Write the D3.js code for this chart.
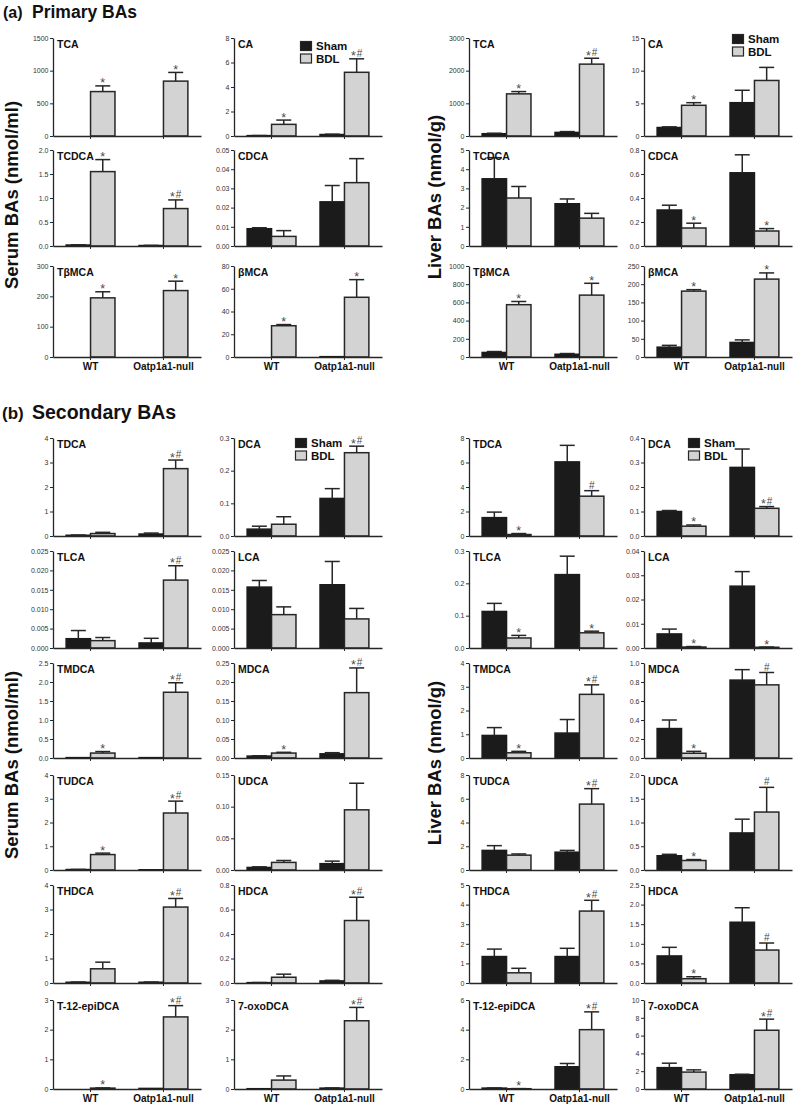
<!DOCTYPE html>
<html><head><meta charset="utf-8">
<script src="https://cdn.jsdelivr.net/npm/d3@7"></script>
<style>
body{margin:0;background:#fff}
svg{display:block}
text{font-family:"Liberation Sans",Arial,Helvetica,sans-serif}
</style>
</head><body>
<svg id="chart" width="794" height="1105"></svg>
<script>
// ---------------- DATA ----------------
const groups = ["WT", "Oatp1a1-null"];
const seriesNames = ["Sham", "BDL"];
const sectionTitles = [["(a)", "Primary BAs"], ["(b)", "Secondary BAs"]];
const yTitles = ["Serum BAs (nmol/ml)", "Liver BAs (nmol/g)"];

// panels in reading order: per row -> serum, serum, liver, liver
const panelNames = [
  "TCA","CA","TCA","CA",
  "TCDCA","CDCA","TCDCA","CDCA",
  "TβMCA","βMCA","TβMCA","βMCA",
  "TDCA","DCA","TDCA","DCA",
  "TLCA","LCA","TLCA","LCA",
  "TMDCA","MDCA","TMDCA","MDCA",
  "TUDCA","UDCA","TUDCA","UDCA",
  "THDCA","HDCA","THDCA","HDCA",
  "T-12-epiDCA","7-oxoDCA","T-12-epiDCA","7-oxoDCA"
];
const yMax = [
  1500, 8, 3000, 15,
  2.0, 0.05, 5, 0.8,
  300, 80, 1000, 250,
  4, 0.3, 8, 0.4,
  0.025, 0.025, 0.3, 0.04,
  2.5, 0.25, 4, 1.0,
  4, 0.15, 8, 2.0,
  4, 0.8, 5, 2.5,
  3, 3, 6, 10
];
const tickStep = [
  500, 2, 1000, 5,
  0.5, 0.01, 1, 0.2,
  100, 20, 200, 50,
  1, 0.1, 2, 0.1,
  0.005, 0.005, 0.1, 0.01,
  0.5, 0.05, 1, 0.2,
  1, 0.05, 2, 0.5,
  1, 0.2, 1, 0.5,
  1, 1, 2, 2
];
const tickDecimals = [
  0, 0, 0, 0,
  1, 2, 0, 1,
  0, 0, 0, 0,
  0, 1, 0, 1,
  3, 3, 1, 2,
  1, 2, 0, 1,
  0, 2, 0, 1,
  0, 1, 0, 1,
  0, 0, 0, 0
];
// [WT, Oatp1a1-null]
const shamMean = [
  [0, 0], [0.03, 0.12], [70, 110], [1.3, 5.1],
  [0.02, 0.01], [0.009, 0.023], [3.5, 2.2], [0.30, 0.61],
  [0, 0], [0, 0.3], [50, 30], [27, 40],
  [0.03, 0.08], [0.021, 0.115], [1.5, 6.05], [0.1, 0.28],
  [0.0024, 0.0013], [0.0157, 0.0163], [0.113, 0.227], [0.0058, 0.0255],
  [0.01, 0.01], [0.005, 0.011], [0.95, 1.05], [0.31, 0.82],
  [0.02, 0.01], [0.004, 0.010], [1.65, 1.5], [0.3, 0.78],
  [0.03, 0.03], [0.003, 0.017], [1.35, 1.35], [0.69, 1.55],
  [0, 0.02], [0.01, 0.03], [0.06, 1.5], [2.4, 1.6]
];
const shamErr = [
  [0, 0], [0.01, 0.03], [15, 25], [0.1, 1.9],
  [0.005, 0.003], [0.0005, 0.0085], [1.1, 0.25], [0.04, 0.15],
  [0, 0], [0, 0], [10, 8], [5, 7],
  [0.01, 0.04], [0.009, 0.03], [0.45, 1.35], [0.004, 0.075],
  [0.0021, 0.0012], [0.0017, 0.006], [0.025, 0.057], [0.002, 0.006],
  [0, 0], [0.001, 0.003], [0.33, 0.57], [0.09, 0.11],
  [0.005, 0], [0.001, 0.004], [0.4, 0.15], [0.03, 0.29],
  [0.01, 0.01], [0.001, 0.005], [0.38, 0.42], [0.22, 0.37],
  [0, 0], [0, 0.005], [0.01, 0.22], [0.5, 0.06]
];
const bdlMean = [
  [680, 840], [0.95, 5.2], [1290, 2200], [4.7, 8.5],
  [1.55, 0.78], [0.005, 0.033], [2.5, 1.45], [0.15, 0.125],
  [195, 219], [27.5, 52.5], [575, 680], [181, 214],
  [0.10, 2.75], [0.036, 0.255], [0.12, 3.25], [0.04, 0.113],
  [0.0019, 0.0175], [0.0086, 0.0075], [0.031, 0.047], [0.0004, 0.0003],
  [0.13, 1.73], [0.013, 0.172], [0.22, 2.68], [0.05, 0.77],
  [0.65, 2.4], [0.012, 0.095], [1.25, 5.55], [0.2, 1.22],
  [0.58, 3.1], [0.047, 0.51], [0.52, 3.67], [0.11, 0.84],
  [0.03, 2.43], [0.3, 2.3], [0.02, 4.0], [1.9, 6.6]
];
const bdlErr = [
  [87, 133], [0.35, 1.1], [70, 180], [0.4, 2.0],
  [0.25, 0.18], [0.003, 0.0125], [0.6, 0.25], [0.04, 0.02],
  [20, 31], [1, 15.5], [35, 130], [4, 17],
  [0.05, 0.35], [0.023, 0.02], [0.08, 0.45], [0.005, 0.007],
  [0.0008, 0.0037], [0.002, 0.0027], [0.008, 0.005], [0.0002, 0.0001],
  [0.04, 0.25], [0.002, 0.065], [0.06, 0.4], [0.02, 0.13],
  [0.06, 0.5], [0.003, 0.042], [0.1, 1.3], [0.02, 0.52],
  [0.27, 0.35], [0.025, 0.19], [0.23, 0.55], [0.05, 0.18],
  [0.005, 0.38], [0.14, 0.45], [0.005, 1.2], [0.25, 1.25]
];
const bdlMarks = [
  ["*","*"], ["*","*#"], ["*","*#"], ["*",""],
  ["*","*#"], ["",""], ["",""], ["*","*"],
  ["*","*"], ["*","*"], ["*","*"], ["*","*"],
  ["","*#"], ["","*#"], ["*","#"], ["*","*#"],
  ["","*#"], ["",""], ["*","*"], ["*","*"],
  ["*","*#"], ["*","*#"], ["*","*#"], ["*","#"],
  ["*","*#"], ["",""], ["","*#"], ["*","#"],
  ["","*#"], ["","*#"], ["","*#"], ["*","#"],
  ["*","*#"], ["","*#"], ["*","*#"], ["","*#"]
];

// ---------------- LAYOUT ----------------
const svg = d3.select("#chart");
const colX = [53, 234, 469, 644];
const colW = 148;
const rowBox = [
  [38,136],[150,246],[266,357],
  [438,536],[551,648],[663,758],[775,870],[885,983],[1000,1089]
];
const lastRows = [2, 8];
const ink = "#262626";
const shamColor = "#1b1b1b";
const bdlColor = "#d3d3d3";

// section titles
const titlePos = [[3, 32, 17.5, 16, 17.5], [2, 32, 419, 17, 19.5]];
sectionTitles.forEach((t, i) => {
  const [xa, xb, yb, fa, fb] = titlePos[i];
  svg.append("text").attr("x", xa).attr("y", yb).attr("font-size", fa).attr("font-weight", "bold").attr("fill", "#111").text(t[0]);
  svg.append("text").attr("x", xb).attr("y", yb).attr("font-size", fb).attr("font-weight", "bold").attr("fill", "#111").text(t[1]);
});

// y titles
const yTitlePos = [[18, 195, 0], [441, 197, 1], [18, 765, 0], [441, 763, 1]];
yTitlePos.forEach(([x, y, k]) => {
  svg.append("text")
    .attr("transform", `translate(${x},${y}) rotate(-90)`)
    .attr("text-anchor", "middle")
    .attr("font-size", 18.5).attr("font-weight", "bold").attr("fill", "#111")
    .text(yTitles[k]);
});

// legends
const legendPos = [[300, 41], [732, 34], [295, 438], [688, 438]];
legendPos.forEach(([lx, ly]) => {
  const g = svg.append("g").attr("transform", `translate(${lx},${ly})`);
  seriesNames.forEach((s, i) => {
    g.append("rect").attr("x", 0.5).attr("y", i * 12.5 + 0.5).attr("width", 11).attr("height", 9)
      .attr("fill", i === 0 ? shamColor : bdlColor).attr("stroke", ink).attr("stroke-width", 1.2);
    g.append("text").attr("x", 16).attr("y", i * 12.5 + 9).attr("font-size", 11.5)
      .attr("font-weight", "bold").attr("fill", "#111").text(s);
  });
});

// panels
panelNames.forEach((name, i) => {
  const r = Math.floor(i / 4), c = i % 4;
  const [top, bottom] = rowBox[r];
  const x0 = colX[c];
  const xb = d3.scaleBand().domain(groups).range([x0, x0 + colW]).paddingInner(0.33).paddingOuter(0.18);
  const sub = d3.scaleBand().domain(seriesNames).range([0, xb.bandwidth()]);
  const y = d3.scaleLinear().domain([0, yMax[i]]).range([bottom, top]);
  const g = svg.append("g");

  const means = [shamMean[i], bdlMean[i]];
  const errs = [shamErr[i], bdlErr[i]];

  // bars
  seriesNames.forEach((s, si) => {
    groups.forEach((grp, gi) => {
      const v = means[si][gi];
      const bx = xb(grp) + sub(s);
      g.append("rect")
        .attr("x", bx).attr("y", y(v))
        .attr("width", sub.bandwidth()).attr("height", Math.max(0, bottom - y(v)))
        .attr("fill", si === 0 ? shamColor : bdlColor)
        .attr("stroke", si === 0 ? shamColor : ink).attr("stroke-width", 1.5);
    });
  });
  // error bars
  seriesNames.forEach((s, si) => {
    groups.forEach((grp, gi) => {
      const v = means[si][gi], e = errs[si][gi];
      if (e <= 0) return;
      const cx = xb(grp) + sub(s) + sub.bandwidth() / 2;
      g.append("line").attr("x1", cx).attr("x2", cx).attr("y1", y(v)).attr("y2", y(v + e))
        .attr("stroke", ink).attr("stroke-width", 1.5);
      g.append("line").attr("x1", cx - 7.5).attr("x2", cx + 7.5).attr("y1", y(v + e)).attr("y2", y(v + e))
        .attr("stroke", ink).attr("stroke-width", 1.5);
    });
  });
  // significance marks on BDL bars
  groups.forEach((grp, gi) => {
    const m = bdlMarks[i][gi];
    if (!m) return;
    const v = bdlMean[i][gi], e = bdlErr[i][gi];
    const cx = xb(grp) + sub("BDL") + sub.bandwidth() / 2;
    const t = g.append("text").attr("x", cx).attr("y", y(v + e) - 2)
      .attr("text-anchor", "middle").attr("fill", "#4a4a4a");
    let shift = 0;
    [...m].forEach((ch, k) => {
      const target = ch === "*" ? 3.5 : 0;
      t.append("tspan").attr("dy", target - shift).attr("dx", k > 0 ? 1 : 0)
        .attr("font-size", ch === "*" ? 12.5 : 10).text(ch);
      shift = target;
    });
  });

  // y axis
  const ticks = d3.range(0, yMax[i] + tickStep[i] / 2, tickStep[i]);
  const ya = g.append("g").attr("transform", `translate(${x0},0)`)
    .call(d3.axisLeft(y).tickValues(ticks).tickFormat(d3.format(`.${tickDecimals[i]}f`)).tickSize(3).tickSizeOuter(0).tickPadding(1.5));
  ya.select(".domain").attr("stroke", ink).attr("stroke-width", 1.3);
  ya.selectAll(".tick line").attr("stroke", ink).attr("stroke-width", 1);
  ya.selectAll(".tick text").attr("font-size", 7).attr("fill", "#333").attr("font-family", '"Liberation Sans",Arial,sans-serif');

  // x axis
  const xa = g.append("g").attr("transform", `translate(0,${bottom})`)
    .call(d3.axisBottom(xb).tickSize(3).tickSizeOuter(0).tickFormat(""));
  xa.select(".domain").attr("stroke", ink).attr("stroke-width", 1.5);
  xa.selectAll(".tick line").attr("stroke", ink).attr("stroke-width", 1);
  if (lastRows.includes(r)) {
    groups.forEach(grp => {
      g.append("text").attr("x", xb(grp) + xb.bandwidth() / 2).attr("y", bottom + 12.5)
        .attr("text-anchor", "middle").attr("font-size", 10).attr("font-weight", "bold").attr("fill", "#111").text(grp);
    });
  }

  // panel name
  g.append("text").attr("x", x0 + 4).attr("y", top + 9.5).attr("font-size", 10.5)
    .attr("font-weight", "bold").attr("fill", "#111").text(name);
});
</script>
</body></html>
